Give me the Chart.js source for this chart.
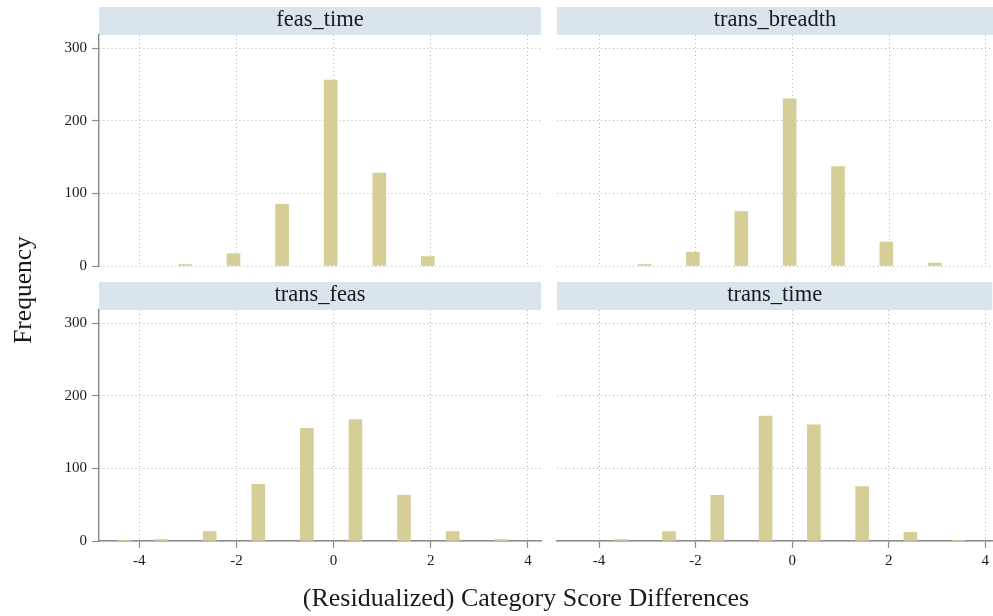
<!DOCTYPE html>
<html>
<head>
<meta charset="utf-8">
<script src="https://cdn.jsdelivr.net/npm/chart.js@4.4.0/dist/chart.umd.min.js"></script>
<style>
  html, body { margin: 0; padding: 0; background: #ffffff; }
  #wrap { position: relative; width: 993px; height: 616px; overflow: hidden; background: #ffffff; }
  #wrap canvas { position: absolute; left: 0; top: 0; }
</style>
</head>
<body>
<div id="wrap">
  <canvas id="c0" width="993" height="616"></canvas>
  <canvas id="c1" width="993" height="616"></canvas>
  <canvas id="c2" width="993" height="616"></canvas>
  <canvas id="c3" width="993" height="616"></canvas>
</div>
<script>
// Panel names (one histogram per score pair)
const panelNames = ['feas_time', 'trans_breadth', 'trans_feas', 'trans_time'];

// Bin centres and frequencies for each panel
const feasTimeBins = [-3.06, -2.06, -1.06, -0.06, 0.94, 1.94];
const feasTimeFreq = [2, 17, 85, 256, 128, 13];

const transBreadthBins = [-3.06, -2.06, -1.06, -0.06, 0.94, 1.94, 2.94];
const transBreadthFreq = [2, 19, 75, 230, 137, 33, 4];

const transFeasBins = [-4.30, -3.55, -2.55, -1.55, -0.55, 0.45, 1.45, 2.45, 3.45];
const transFeasFreq = [1, 2, 13, 78, 155, 167, 63, 13, 2];

const transTimeBins = [-3.55, -2.55, -1.55, -0.55, 0.45, 1.45, 2.45, 3.45];
const transTimeFreq = [2, 13, 63, 172, 160, 75, 12, 1];

// Axis ticks and titles
const xTicks = [-4, -2, 0, 2, 4];
const yTicks = [0, 100, 200, 300];
const xTitle = '(Residualized) Category Score Differences';
const yTitle = 'Frequency';

// Styling
const FONT = '"Liberation Serif", "DejaVu Serif", serif';
const barColor = '#d5ce97';
const stripColor = '#d9e5eb';
const gridColor = '#b4b4b4';
const axisColor = '#8a8a8a';
const textColor = '#1a1a1a';

// Layout of the 2x2 grid of panels (pixel boxes of each plot region)
const cols = [
  { left: 99,  right: 541, xMin: -4.83, xMax: 4.27 },
  { left: 557, right: 993, xMin: -4.87, xMax: 4.145 }
];
const rows = [
  { top: 35,  bottom: 266, stripTop: 7 },
  { top: 310, bottom: 541, stripTop: 282 }
];
const W = 993, H = 616;

const panels = [
  { name: panelNames[0], bins: feasTimeBins,     freq: feasTimeFreq,     col: 0, row: 0 },
  { name: panelNames[1], bins: transBreadthBins, freq: transBreadthFreq, col: 1, row: 0 },
  { name: panelNames[2], bins: transFeasBins,    freq: transFeasFreq,    col: 0, row: 1 },
  { name: panelNames[3], bins: transTimeBins,    freq: transTimeFreq,    col: 1, row: 1 }
];

// Shaded strip with the panel name above each plot region
const stripPlugin = {
  id: 'strip',
  beforeDraw(chart, args, opts) {
    const { ctx, chartArea } = chart;
    const top = opts.top;
    const h = chartArea.top - top;
    const right = Math.min(chartArea.right, W);
    ctx.save();
    ctx.fillStyle = stripColor;
    ctx.fillRect(chartArea.left, top, right - chartArea.left, h);
    ctx.fillStyle = textColor;
    ctx.font = '22.5px ' + FONT;
    ctx.textAlign = 'center';
    ctx.textBaseline = 'alphabetic';
    ctx.fillText(opts.label, (chartArea.left + right) / 2, top + 19);
    ctx.restore();
  }
};

// Shared axis titles of the whole figure
const titlesPlugin = {
  id: 'figTitles',
  afterDraw(chart, args, opts) {
    if (!opts.show) return;
    const { ctx } = chart;
    ctx.save();
    ctx.fillStyle = textColor;
    ctx.font = '26px ' + FONT;
    ctx.textAlign = 'center';
    ctx.textBaseline = 'alphabetic';
    ctx.fillText(xTitle, 526, 606);
    ctx.translate(31, 290);
    ctx.rotate(-Math.PI / 2);
    ctx.font = '25.5px ' + FONT;
    ctx.fillText(yTitle, 0, 0);
    ctx.restore();
  }
};

panels.forEach((p, i) => {
  const col = cols[p.col];
  const row = rows[p.row];
  const isLeft = p.col === 0;
  const isBottom = p.row === 1;

  new Chart(document.getElementById('c' + i), {
    type: 'bar',
    data: {
      datasets: [{
        data: p.bins.map((x, k) => ({ x: x, y: p.freq[k] })),
        backgroundColor: barColor,
        borderWidth: 0,
        barThickness: 13
      }]
    },
    options: {
      responsive: false,
      animation: false,
      devicePixelRatio: 1,
      layout: { padding: { left: 0, right: W - col.right, top: row.top, bottom: 0 } },
      plugins: {
        legend: { display: false },
        tooltip: { enabled: false },
        title: { display: false },
        strip: { top: row.stripTop, label: p.name },
        figTitles: { show: i === 0 }
      },
      scales: {
        x: {
          type: 'linear',
          min: col.xMin,
          max: col.xMax,
          offset: false,
          afterBuildTicks: s => { s.ticks = xTicks.map(v => ({ value: v })); },
          afterFit: s => { s.height = H - row.bottom; },
          ticks: {
            display: isBottom,
            autoSkip: false,
            maxRotation: 0,
            padding: 4,
            color: textColor,
            font: { family: FONT, size: 15 },
            callback: v => String(v)
          },
          grid: {
            offset: false,
            color: gridColor,
            lineWidth: 1,
            drawTicks: isBottom,
            tickLength: 7,
            tickColor: axisColor,
            tickWidth: 1.2,
            tickBorderDash: []
          },
          border: { display: isBottom, color: axisColor, width: 1.4, dash: [1, 3] }
        },
        y: {
          type: 'linear',
          min: 0,
          max: 318,
          afterBuildTicks: s => { s.ticks = yTicks.map(v => ({ value: v })); },
          afterFit: s => { s.width = col.left; },
          ticks: {
            display: isLeft,
            padding: 5,
            color: textColor,
            font: { family: FONT, size: 15 },
            callback: v => String(v)
          },
          grid: {
            color: gridColor,
            lineWidth: 1,
            drawTicks: isLeft,
            tickLength: 7,
            tickColor: axisColor,
            tickWidth: 1.2,
            tickBorderDash: []
          },
          border: { display: isLeft, color: axisColor, width: 1.4, dash: [1, 3] }
        }
      }
    },
    plugins: [stripPlugin, titlesPlugin]
  });
});
</script>
</body>
</html>
